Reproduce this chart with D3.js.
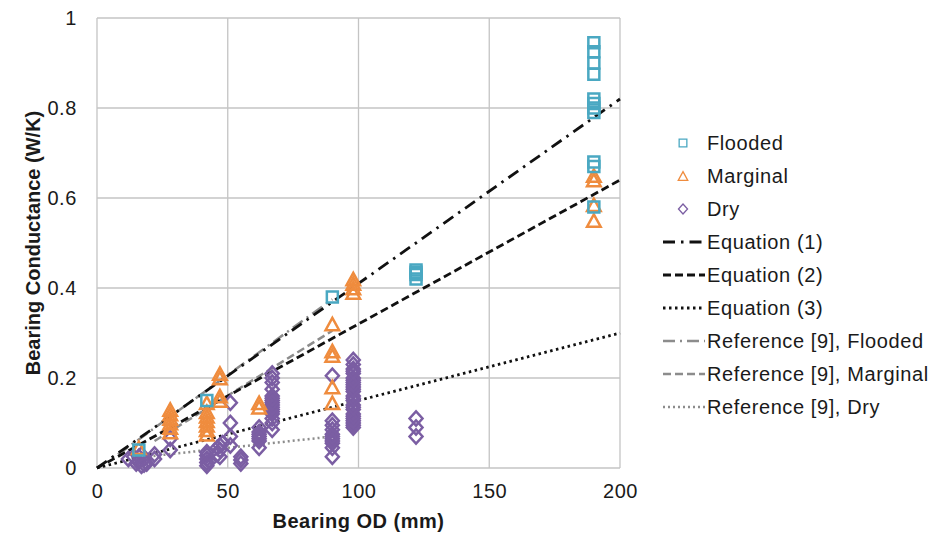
<!DOCTYPE html>
<html>
<head>
<meta charset="utf-8">
<script src="https://cdn.jsdelivr.net/npm/d3@7"></script>
<style>
  body { margin: 0; background: #fff; }
  .chart { width: 946px; height: 535px; }
  text { font-family: "Liberation Sans", Arial, sans-serif; fill: #1a1a1a; }
</style>
</head>
<body>
<div class="chart"></div>
<script>
// measured points: [bearing OD (mm), conductance (W/K)]
const flooded = [
  [16, 0.04], [42, 0.15], [90, 0.38],
  [122, 0.44], [122, 0.435], [122, 0.43], [122, 0.42],
  [190, 0.945], [190, 0.925], [190, 0.90], [190, 0.875],
  [190, 0.82], [190, 0.81], [190, 0.80], [190, 0.79],
  [190, 0.68], [190, 0.67], [190, 0.58]
];
const marginal = [
  [16, 0.045],
  [28, 0.08], [28, 0.09], [28, 0.10], [28, 0.11], [28, 0.12], [28, 0.13],
  [42, 0.075], [42, 0.085], [42, 0.095], [42, 0.105], [42, 0.115], [42, 0.125], [42, 0.145],
  [47, 0.21], [47, 0.20], [47, 0.16], [47, 0.15],
  [62, 0.135], [62, 0.145],
  [90, 0.32], [90, 0.26], [90, 0.25], [90, 0.18], [90, 0.145],
  [98, 0.42], [98, 0.41], [98, 0.40], [98, 0.39],
  [190, 0.65], [190, 0.64], [190, 0.585], [190, 0.55]
];
const dry = [
  [12, 0.02], [14, 0.025], [15, 0.01], [16, 0.015], [17, 0.005], [17, 0.03],
  [18, 0.02], [19, 0.01], [22, 0.02], [22, 0.03], [16, 0.025], [18, 0.008],
  [28, 0.04], [28, 0.065],
  [42, 0.005], [42, 0.012], [42, 0.02], [42, 0.028], [42, 0.035], [43, 0.015],
  [46, 0.03], [47, 0.04], [47, 0.05], [48, 0.055], [47, 0.025], [46, 0.045],
  [51, 0.145], [51, 0.10], [51, 0.07], [51, 0.05],
  [55, 0.01], [55, 0.025], [55, 0.018],
  [62, 0.045], [62, 0.06], [62, 0.07], [62, 0.08], [62, 0.09], [62, 0.065], [62, 0.075],
  [67, 0.085], [67, 0.10], [67, 0.11], [67, 0.12], [67, 0.13], [67, 0.14],
  [67, 0.15], [67, 0.16], [67, 0.175], [67, 0.19], [67, 0.20], [67, 0.21],
  [67, 0.125], [67, 0.135], [67, 0.145], [67, 0.155],
  [90, 0.205], [90, 0.105], [90, 0.095], [90, 0.085], [90, 0.075],
  [90, 0.065], [90, 0.055], [90, 0.045], [90, 0.025], [90, 0.07], [90, 0.06],
  [98, 0.09], [98, 0.10], [98, 0.11], [98, 0.12], [98, 0.13], [98, 0.14],
  [98, 0.15], [98, 0.16], [98, 0.17], [98, 0.18], [98, 0.19], [98, 0.20],
  [98, 0.21], [98, 0.22], [98, 0.23], [98, 0.24],
  [98, 0.095], [98, 0.105], [98, 0.115], [98, 0.135], [98, 0.155], [98, 0.175],
  [98, 0.185], [98, 0.195], [98, 0.215],
  [122, 0.11], [122, 0.09], [122, 0.07]
];

// model / reference lines, endpoints only
const eq1 = [[0, 0], [200, 0.82]];
const eq2 = [[0, 0], [200, 0.64]];
const eq3 = [[0, 0], [200, 0.30]];
const refFlooded = [[8, 0.03], [90, 0.375]];
const refMarginal = [[22, 0.06], [90, 0.305]];
const refDry = [[14, 0.022], [90, 0.07]];

const xTicks = [0, 50, 100, 150, 200];
const yTicks = [0, 0.2, 0.4, 0.6, 0.8, 1];

const W = 946, H = 535;
const m = { left: 97, top: 18, right: 326, bottom: 67 };
const FONT = "20px";

const svg = d3.select(".chart")
  .append("svg")
    .attr("width", W)
    .attr("height", H);

const x = d3.scaleLinear().domain([0, 200]).range([m.left, W - m.right]);
const y = d3.scaleLinear().domain([0, 1]).range([H - m.bottom, m.top]);

// grid
svg.append("g")
  .selectAll("line")
  .data(xTicks)
  .join("line")
    .attr("x1", d => x(d)).attr("x2", d => x(d))
    .attr("y1", y(0)).attr("y2", y(1))
    .attr("stroke", "#c4c4c4").attr("stroke-width", 1.3);

svg.append("g")
  .selectAll("line")
  .data(yTicks)
  .join("line")
    .attr("x1", x(0)).attr("x2", x(200))
    .attr("y1", d => y(d)).attr("y2", d => y(d))
    .attr("stroke", "#c4c4c4").attr("stroke-width", 1.3);

// axes (labels only, grid does the lines)
const xAxis = svg.append("g")
  .attr("transform", `translate(0,${y(0)})`)
  .call(d3.axisBottom(x).tickValues(xTicks).tickSize(0).tickPadding(16).tickFormat(d3.format("d")));
const yAxis = svg.append("g")
  .attr("transform", `translate(${x(0)},0)`)
  .call(d3.axisLeft(y).tickValues(yTicks).tickSize(0).tickPadding(20).tickFormat(d => d));
[xAxis, yAxis].forEach(a => {
  a.select(".domain").remove();
  a.selectAll("text")
    .style("font-size", FONT)
    .style("letter-spacing", "0.6px")
    .style("font-family", "Liberation Sans, Arial, sans-serif")
    .attr("fill", "#1a1a1a");
});

svg.append("text")
  .attr("x", (x(0) + x(200)) / 2)
  .attr("y", 528)
  .attr("text-anchor", "middle")
  .style("font-size", FONT)
  .style("font-weight", "bold")
  .style("letter-spacing", "0.5px")
  .text("Bearing OD (mm)");

svg.append("text")
  .attr("transform", `translate(40,${(y(0) + y(1)) / 2}) rotate(-90)`)
  .attr("text-anchor", "middle")
  .style("font-size", FONT)
  .style("font-weight", "bold")
  .text("Bearing Conductance (W/K)");

// lines
const line = d3.line().x(d => x(d[0])).y(d => y(d[1]));
const lineStyles = [
  { data: refFlooded, color: "#8c8c8c", dash: "12,5,2,5", width: 2.5, name: "Reference [9], Flooded" },
  { data: refMarginal, color: "#8c8c8c", dash: "8,4", width: 2.5, name: "Reference [9], Marginal" },
  { data: refDry, color: "#8c8c8c", dash: "2,3", width: 2.5, name: "Reference [9], Dry" },
  { data: eq1, color: "#111", dash: "12,6,2.5,6", width: 2.8, name: "Equation (1)" },
  { data: eq2, color: "#111", dash: "8,4", width: 2.8, name: "Equation (2)" },
  { data: eq3, color: "#111", dash: "2.5,3.5", width: 2.8, name: "Equation (3)" }
];

svg.append("g")
  .selectAll("path")
  .data(lineStyles)
  .join("path")
    .attr("d", d => line(d.data))
    .attr("fill", "none")
    .attr("stroke", d => d.color)
    .attr("stroke-width", d => d.width)
    .attr("stroke-dasharray", d => d.dash);

// marker shapes, scaled by half-width w and half-height h
const shapes = {
  square: (w, h) => `M${-w},${-h}H${w}V${h}H${-w}Z`,
  triangle: (w, h) => `M0,${-h}L${w},${h}H${-w}Z`,
  diamond: (w, h) => `M0,${-h}L${w},0L0,${h}L${-w},0Z`
};

const series = [
  { data: flooded, name: "Flooded", color: "#4aa8c2", shape: "square", w: 5.5, h: 5.5 },
  { data: marginal, name: "Marginal", color: "#ef8c3e", shape: "triangle", w: 6.8, h: 6.2 },
  { data: dry, name: "Dry", color: "#7b5ea3", shape: "diamond", w: 6.5, h: 7.2 }
];

const marks = svg.append("g");
series.slice().reverse().forEach(s => {
  marks.append("g")
    .selectAll("path")
    .data(s.data)
    .join("path")
      .attr("transform", d => `translate(${x(d[0])},${y(d[1])})`)
      .attr("d", shapes[s.shape](s.w, s.h))
      .attr("fill", "none")
      .attr("stroke", s.color)
      .attr("stroke-width", 2.5);
});

// legend
const legend = svg.append("g");
const rowY = i => 143 + i * 33;

series.forEach((s, i) => {
  legend.append("path")
    .attr("transform", `translate(683,${rowY(i)})`)
    .attr("d", shapes[s.shape](s.w * 0.7, s.h * 0.7))
    .attr("fill", "none")
    .attr("stroke", s.color)
    .attr("stroke-width", 1.3);
  legend.append("text")
    .attr("x", 707).attr("y", rowY(i) + 7)
    .style("font-size", FONT)
    .style("letter-spacing", "0.6px")
    .text(s.name);
});

const legendLines = [3, 4, 5, 0, 1, 2].map(k => lineStyles[k]);
legendLines.forEach((s, j) => {
  const i = j + 3;
  legend.append("line")
    .attr("x1", 663).attr("x2", 705)
    .attr("y1", rowY(i)).attr("y2", rowY(i))
    .attr("stroke", s.color)
    .attr("stroke-width", s.width)
    .attr("stroke-dasharray", s.dash);
  legend.append("text")
    .attr("x", 707).attr("y", rowY(i) + 7)
    .style("font-size", FONT)
    .style("letter-spacing", "0.6px")
    .text(s.name);
});
</script>
</body>
</html>
